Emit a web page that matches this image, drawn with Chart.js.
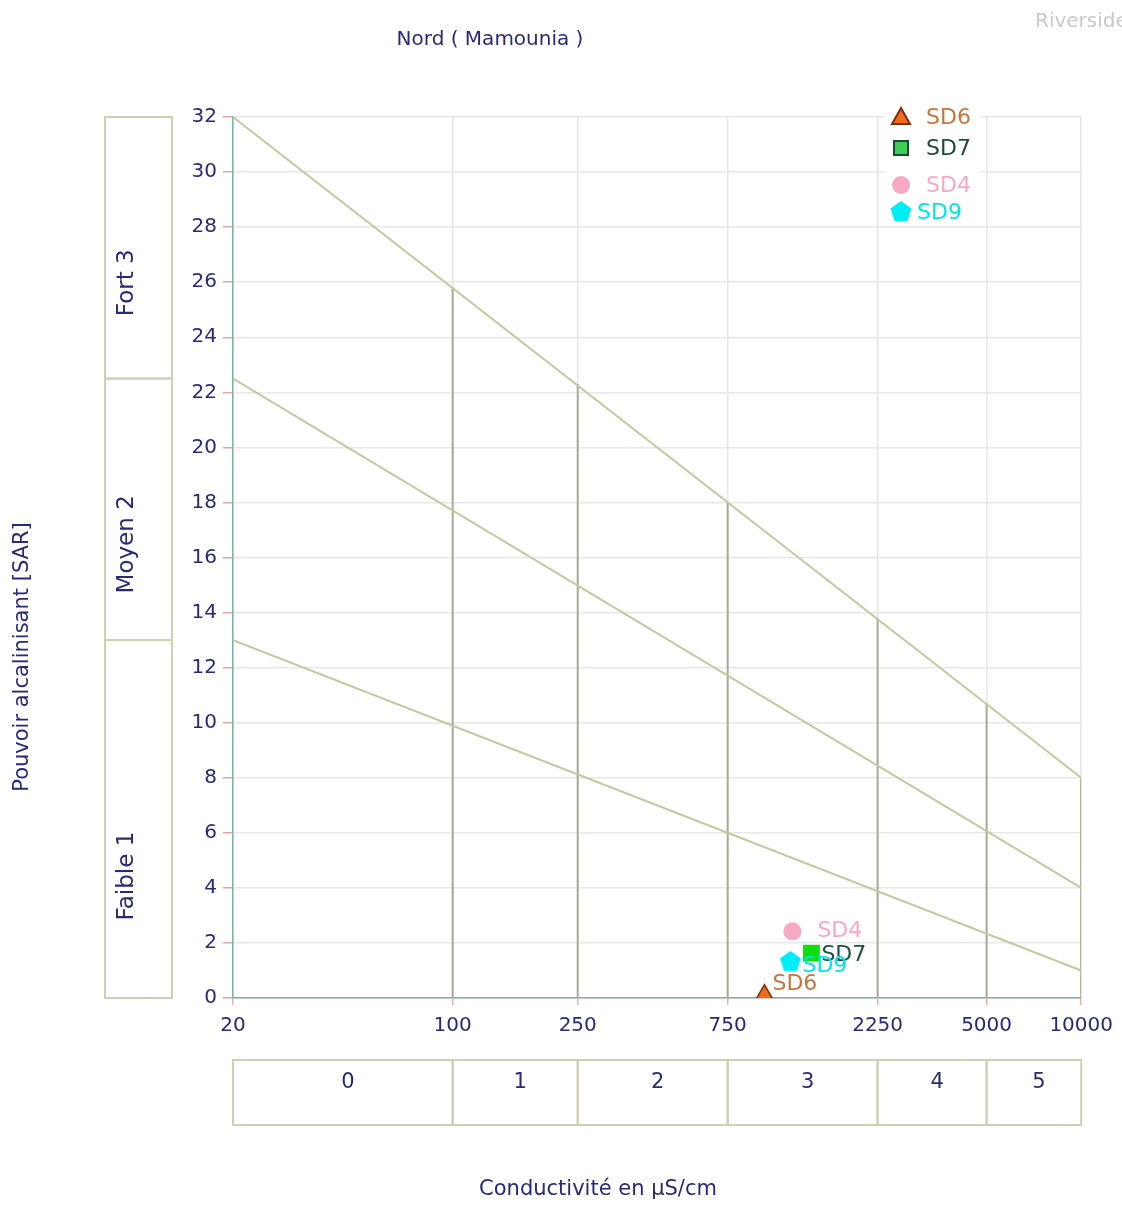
<!DOCTYPE html>
<html>
<head>
<meta charset="utf-8">
<title>Riverside - Nord (Mamounia)</title>
<script src="https://cdn.jsdelivr.net/npm/chart.js@4/dist/chart.umd.min.js"></script>
<style>
  html, body { margin: 0; padding: 0; background: #fff; }
  canvas { display: block; }
</style>
</head>
<body>
<canvas id="riverside" width="1122" height="1205"></canvas>
<script>
// ------------------------------------------------------------
// Data
// ------------------------------------------------------------
const conductivityTicks = [20, 100, 250, 750, 2250, 5000, 10000];
const salinityClasses = ['0', '1', '2', '3', '4', '5'];
const alkalinityClasses = ['Faible 1', 'Moyen 2', 'Fort 3'];
const alkalinityBounds = [0, 13, 22.5, 32];

// the three SAR boundary lines, from EC=20 to EC=10000
const boundaryStartSAR = [32, 22.5, 13];
const boundaryEndSAR = [8, 4, 1];

// top of the vertical class separators (where they meet the upper line)
const separatorTopSAR = [25.8, 22.3, 18.0, 13.8, 10.7, 8];

const sampleNames = ['SD6', 'SD7', 'SD4', 'SD9'];
const sampleEC = [982, 1385, 1205, 1188];
const sampleSAR = [0.12, 1.63, 2.42, 1.31];

// ------------------------------------------------------------
// Styles
// ------------------------------------------------------------
const FONT = '"DejaVu Sans", sans-serif';
const NAVY = '#282a78';
const BOX = '#cfcfb6';

// pentagon marker (Chart.js has no built-in pentagon)
function makePentagon(r, color) {
    const c = document.createElement('canvas');
    c.width = c.height = r * 2 + 2;
    const g = c.getContext('2d');
    g.beginPath();
    for (let i = 0; i < 5; i++) {
        const a = -Math.PI / 2 + i * 2 * Math.PI / 5;
        const px = r + 1 + Math.cos(a) * r;
        const py = r + 1 + Math.sin(a) * r;
        i ? g.lineTo(px, py) : g.moveTo(px, py);
    }
    g.closePath();
    g.fillStyle = color;
    g.fill();
    return c;
}

const sampleStyle = {
    SD6: { pointStyle: 'triangle', radius: 10, fill: '#f26b1c', stroke: '#7a2e0c', border: 1.5, text: '#c8743c', dx: 8, dy: -10 },
    SD7: { pointStyle: 'rect', radius: 12, fill: '#10dd10', stroke: '#10dd10', border: 0, text: '#1d5249', dx: 10, dy: 2 },
    SD4: { pointStyle: 'circle', radius: 9, fill: '#f7a8c4', stroke: '#f7a8c4', border: 0, text: '#f7a8c4', dx: 25, dy: 0 },
    SD9: { pointStyle: makePentagon(11, '#00eef6'), radius: 11, fill: '#00eef6', stroke: '#00eef6', border: 0, text: '#00e4ee', dx: 12, dy: 4 }
};

// ------------------------------------------------------------
// Datasets
// ------------------------------------------------------------
const boundaryDatasets = boundaryStartSAR.map((s, i) => ({
    label: 'limit' + i,
    data: [{ x: conductivityTicks[0], y: s }, { x: conductivityTicks[conductivityTicks.length - 1], y: boundaryEndSAR[i] }],
    showLine: true,
    borderColor: '#c6c6a0',
    borderWidth: 2,
    pointRadius: 0,
    order: 3
}));

const separatorDatasets = conductivityTicks.slice(1).map((ec, i) => ({
    label: 'sep' + i,
    data: [{ x: ec, y: 0 }, { x: ec, y: separatorTopSAR[i] }],
    showLine: true,
    borderColor: '#a9a998',
    borderWidth: 2,
    pointRadius: 0,
    order: 4
}));

const sampleDatasets = sampleNames.map((name, i) => {
    const st = sampleStyle[name];
    return {
        label: name,
        data: [{ x: sampleEC[i], y: sampleSAR[i] }],
        pointStyle: st.pointStyle,
        pointRadius: st.radius,
        backgroundColor: st.fill,
        borderColor: st.stroke,
        borderWidth: st.border,
        order: 1
    };
});

// ------------------------------------------------------------
// Decorations: class boxes, titles, legend, point labels
// ------------------------------------------------------------
const decorations = {
    id: 'decorations',
    beforeDraw(chart) {
        const ctx = chart.ctx;
        ctx.save();
        ctx.fillStyle = '#fff';
        ctx.fillRect(0, 0, chart.width, chart.height);
        ctx.restore();
    },
    afterDatasetsDraw(chart) {
        const ctx = chart.ctx;
        ctx.save();
        ctx.font = '22px ' + FONT;
        ctx.textBaseline = 'middle';
        ctx.textAlign = 'left';

        // labels next to the samples
        sampleNames.forEach((name, i) => {
            const el = chart.getDatasetMeta(boundaryDatasets.length + separatorDatasets.length + i).data[0];
            const st = sampleStyle[name];
            ctx.fillStyle = st.text;
            ctx.fillText(name, el.x + st.dx, el.y + st.dy);
        });

        // legend, top right inside the plot
        const lx = 901;
        const rows = [
            { name: 'SD6', y: 117, tx: 926 },
            { name: 'SD7', y: 148, tx: 926 },
            { name: 'SD4', y: 185, tx: 926 },
            { name: 'SD9', y: 212, tx: 917 }
        ];
        ctx.fillStyle = '#fff';
        ctx.fillRect(885, 100, 95, 125);
        rows.forEach(r => {
            const st = sampleStyle[r.name];
            if (r.name === 'SD6') {
                ctx.beginPath();
                ctx.moveTo(lx, r.y - 9);
                ctx.lineTo(lx + 9, r.y + 7);
                ctx.lineTo(lx - 9, r.y + 7);
                ctx.closePath();
                ctx.fillStyle = st.fill;
                ctx.fill();
                ctx.lineWidth = 2;
                ctx.strokeStyle = st.stroke;
                ctx.stroke();
            } else if (r.name === 'SD7') {
                ctx.fillStyle = '#3fcd55';
                ctx.fillRect(lx - 7, r.y - 7, 14, 14);
                ctx.lineWidth = 2;
                ctx.strokeStyle = '#1d4a30';
                ctx.strokeRect(lx - 7, r.y - 7, 14, 14);
            } else if (r.name === 'SD4') {
                ctx.beginPath();
                ctx.arc(lx, r.y, 9, 0, Math.PI * 2);
                ctx.fillStyle = st.fill;
                ctx.fill();
            } else {
                ctx.drawImage(st.pointStyle, lx - 12, r.y - 12);
            }
            ctx.fillStyle = r.name === 'SD7' ? '#1f4a3c' : st.text;
            ctx.fillText(r.name, r.tx, r.y + 1);
        });
        ctx.restore();
    },
    afterDraw(chart) {
        const ctx = chart.ctx;
        const xs = chart.scales.x;
        const ys = chart.scales.y;
        ctx.save();

        // left: alkalinity classes
        const bx0 = 105, bx1 = 172;
        ctx.strokeStyle = BOX;
        ctx.lineWidth = 2;
        const labelShift = [57, 35, 35];
        for (let i = 0; i < alkalinityClasses.length; i++) {
            const yTop = ys.getPixelForValue(alkalinityBounds[i + 1]);
            const yBot = ys.getPixelForValue(alkalinityBounds[i]);
            ctx.strokeRect(bx0, yTop, bx1 - bx0, yBot - yTop);
            ctx.save();
            ctx.translate(127, (yTop + yBot) / 2 + labelShift[i]);
            ctx.rotate(-Math.PI / 2);
            ctx.fillStyle = NAVY;
            ctx.font = '23px ' + FONT;
            ctx.textAlign = 'center';
            ctx.textBaseline = 'middle';
            ctx.fillText(alkalinityClasses[i], 0, 0);
            ctx.restore();
        }

        // bottom: salinity classes
        const by0 = 1060, by1 = 1125;
        ctx.fillStyle = NAVY;
        ctx.font = '21px ' + FONT;
        ctx.textAlign = 'center';
        ctx.textBaseline = 'middle';
        for (let i = 0; i < salinityClasses.length; i++) {
            const x0 = xs.getPixelForValue(conductivityTicks[i]);
            const x1 = xs.getPixelForValue(conductivityTicks[i + 1]);
            ctx.strokeRect(x0, by0, x1 - x0, by1 - by0);
            ctx.fillText(salinityClasses[i], (x0 + x1) / 2 + 5, 1083);
        }

        // titles
        ctx.font = '20px ' + FONT;
        ctx.fillText('Nord ( Mamounia )', 490, 40);
        ctx.font = '21px ' + FONT;
        ctx.fillText('Conductivité en µS/cm', 598, 1190);
        ctx.save();
        ctx.translate(23, 657);
        ctx.rotate(-Math.PI / 2);
        ctx.font = '21px ' + FONT;
        ctx.fillText('Pouvoir alcalinisant [SAR]', 0, 0);
        ctx.restore();

        ctx.fillStyle = '#c9c9c9';
        ctx.textAlign = 'left';
        ctx.font = '20px ' + FONT;
        ctx.fillText('Riverside', 1035, 22);
        ctx.restore();
    }
};

// ------------------------------------------------------------
// Chart
// ------------------------------------------------------------
new Chart(document.getElementById('riverside'), {
    type: 'scatter',
    data: { datasets: [...boundaryDatasets, ...separatorDatasets, ...sampleDatasets] },
    options: {
        responsive: false,
        devicePixelRatio: 1,
        animation: false,
        layout: { padding: { left: 183, top: 117, right: 40, bottom: 167 } },
        plugins: {
            legend: { display: false },
            tooltip: { enabled: false },
            title: { display: false }
        },
        scales: {
            x: {
                type: 'logarithmic',
                min: 20,
                max: 10000,
                afterBuildTicks(scale) {
                    scale.ticks = conductivityTicks.map(v => ({ value: v }));
                },
                afterFit(scale) { scale.height = 40; },
                ticks: {
                    autoSkip: false,
                    maxRotation: 0,
                    padding: 9,
                    color: NAVY,
                    font: { family: FONT, size: 20 },
                    callback: v => String(v)
                },
                grid: { color: '#e6e6e6', lineWidth: 1.5, tickColor: '#e4b0b0', tickLength: 7 },
                border: { color: '#7fb0a4', width: 1.5 }
            },
            y: {
                min: 0,
                max: 32,
                afterFit(scale) { scale.width = 50; },
                ticks: {
                    stepSize: 2,
                    padding: 6,
                    color: NAVY,
                    font: { family: FONT, size: 20 }
                },
                grid: { color: '#e8e8e8', lineWidth: 1.5, tickColor: '#e4a4a4', tickLength: 10 },
                border: { color: '#7fb0a4', width: 1.5 }
            }
        }
    },
    plugins: [decorations]
});
</script>
</body>
</html>
